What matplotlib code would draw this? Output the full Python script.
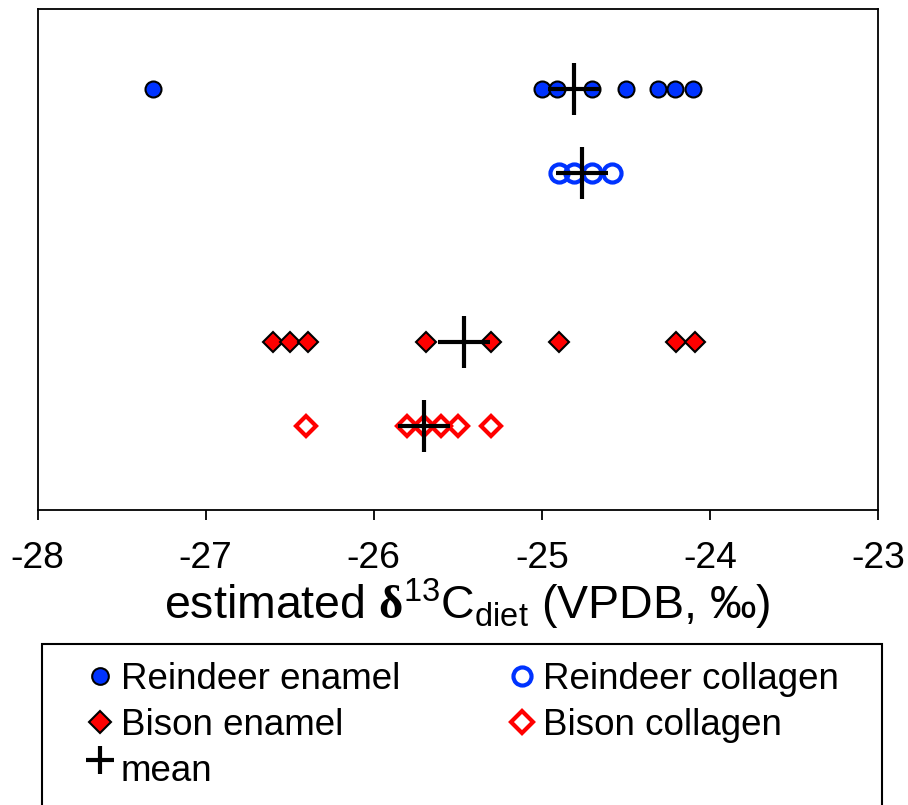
import numpy as np
from matplotlib import pyplot as plt
from matplotlib.lines import Line2D
from matplotlib.patches import Rectangle
from matplotlib.legend_handler import HandlerLine2D

plt.rcParams['font.family'] = ['Liberation Sans', 'DejaVu Sans']
plt.rcParams['mathtext.fontset'] = 'custom'
plt.rcParams['mathtext.rm'] = 'Liberation Sans'
plt.rcParams['mathtext.it'] = 'Liberation Sans:italic'
plt.rcParams['mathtext.bf'] = 'Liberation Serif:bold'

# estimated d13C diet values (VPDB, permil)
reindeer_enamel = [-27.31, -25.00, -24.91, -24.70, -24.50, -24.31, -24.21, -24.10]
reindeer_collagen = [-24.90, -24.81, -24.70, -24.58]
bison_enamel = [-26.60, -26.50, -26.39, -25.69, -25.30, -24.90, -24.20, -24.09]
bison_collagen = [-26.40, -25.80, -25.70, -25.60, -25.50, -25.30]
group_means = [-24.81, -24.76, -25.46, -25.70]

labels = ['Reindeer enamel', 'Reindeer collagen', 'Bison enamel', 'Bison collagen', 'mean']
xticks = [-28, -27, -26, -25, -24, -23]

blue = '#0033ff'
red = '#ff0000'
rows = [5, 4, 2, 1]


class ShiftedHandler(HandlerLine2D):
    # moves the legend marker inside its handle box (points)
    def __init__(self, dx=0, dy=0, **kw):
        super().__init__(**kw)
        self.dx = dx
        self.dy = dy

    def create_artists(self, legend, orig_handle, xdescent, ydescent,
                       width, height, fontsize, trans):
        arts = super().create_artists(legend, orig_handle, xdescent, ydescent,
                                      width, height, fontsize, trans)
        for a in arts:
            a.set_xdata(np.asarray(a.get_xdata()) + self.dx)
            a.set_ydata(np.asarray(a.get_ydata()) + self.dy)
        return arts


fig = plt.figure(figsize=(9.08, 8.05), dpi=100)
ax = fig.add_axes([0.0413, 0.3665, 0.9257, 0.6225])

ax.plot(reindeer_enamel, [rows[0]] * len(reindeer_enamel), 'o', ms=11.5,
        mfc=blue, mec='black', mew=1.5, ls='none')
ax.plot(reindeer_collagen, [rows[1]] * len(reindeer_collagen), 'o', ms=13,
        mfc='none', mec=blue, mew=3, ls='none')
ax.plot(bison_enamel, [rows[2]] * len(bison_enamel), 'D', ms=10.5,
        mfc=red, mec='black', mew=1.5, ls='none')
ax.plot(bison_collagen, [rows[3]] * len(bison_collagen), 'D', ms=10.5,
        mfc='none', mec=red, mew=3, ls='none')
ax.plot(group_means, rows, '+', ms=38, mec='black', mew=3, ls='none', zorder=5)

ax.set_xlim(-28, -23)
ax.set_ylim(0, 5.95)
ax.set_yticks([])
ax.set_xticks(xticks)
ax.set_xticklabels([str(t) for t in xticks])
ax.tick_params(axis='x', direction='out', length=7, width=1.3, labelsize=26.8, pad=15)
for s in ax.spines.values():
    s.set_linewidth(1.3)

ax.set_xlabel(r'estimated $\mathbf{δ}^{13}$C$_{\mathrm{diet}}$ (VPDB, ‰)',
              fontsize=33.5, labelpad=0)
ax.xaxis.set_label_coords(0.5116, -0.2176)
ax.xaxis.label.set_va('baseline')

handles = [
    Line2D([], [], marker='o', ls='none', ms=12, mfc=blue, mec='black', mew=1.5),
    Line2D([], [], marker='D', ls='none', ms=11, mfc=red, mec='black', mew=1.5),
    Line2D([], [], marker='+', ls='none', ms=20, mec='black', mew=3),
    Line2D([], [], marker='o', ls='none', ms=13, mfc='none', mec=blue, mew=3),
    Line2D([], [], marker='D', ls='none', ms=11, mfc='none', mec=red, mew=3),
]
names = [labels[0], labels[2], labels[4], labels[1], labels[3]]
hmap = {h: ShiftedHandler(dx=18.7) for h in handles}
hmap[handles[2]] = ShiftedHandler(dx=18.7, dy=6)
leg = fig.legend(handles, names, ncol=2, loc='upper left',
                 bbox_to_anchor=(0.0595, 0.1777), handler_map=hmap,
                 fontsize=26.5, frameon=False,
                 handlelength=1.1, handletextpad=0.72, labelspacing=0.3,
                 columnspacing=2.05, borderpad=0, borderaxespad=0)

fig.patches.append(Rectangle((42 / 908, -0.05), 840 / 908, 0.05 + 161 / 805,
                             transform=fig.transFigure, fill=False,
                             edgecolor='black', linewidth=1.5))

plt.savefig('out.png', dpi=100)
plt.close()
